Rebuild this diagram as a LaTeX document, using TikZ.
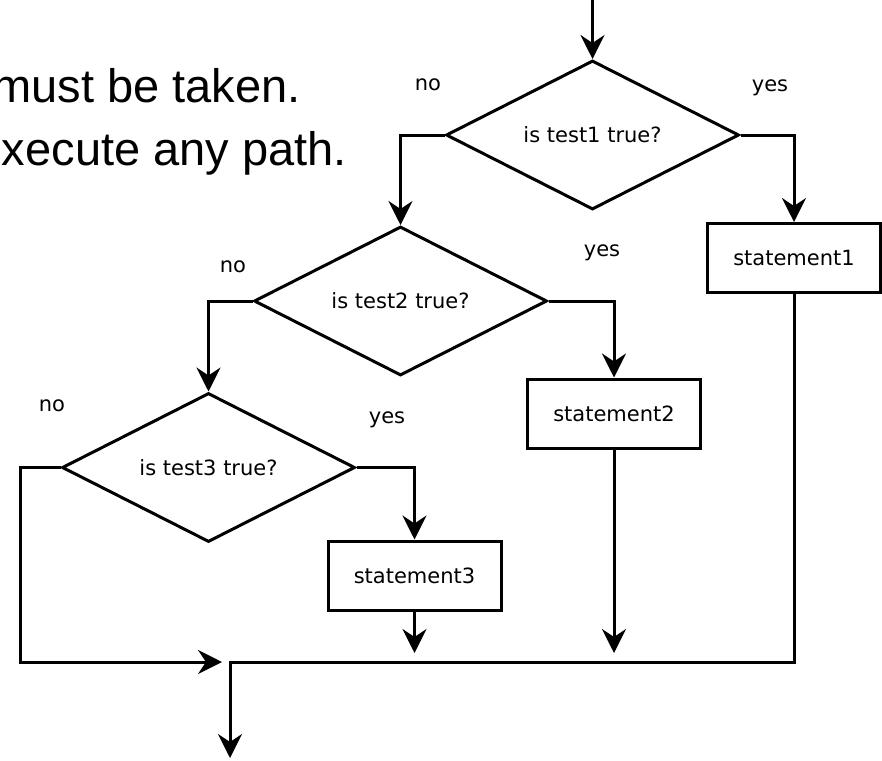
\documentclass[tikz,border=0pt]{standalone}
\usepackage{fontspec}
\usepackage{tikz}
\usetikzlibrary{positioning, shapes.geometric, arrows.meta}
\setmainfont{DejaVu Sans}
\newfontfamily\introfont{Liberation Sans}

\begin{document}
\begin{tikzpicture}[
    x=1pt, y=-1pt,
    decision/.style={diamond, draw, line width=3pt, aspect=2, minimum width=293pt,
                     minimum height=149pt, inner sep=0pt, font=\fontsize{21}{25}\selectfont},
    stmt/.style={rectangle, draw, line width=3pt, minimum width=173pt, minimum height=69pt,
                 inner sep=0pt, font=\fontsize{21}{25}\selectfont},
    flow/.style={line width=3pt, -{Stealth[length=24pt, width=24pt, inset=8pt]}},
    answer/.style={font=\fontsize{21}{25}\selectfont, inner sep=0pt},
    intro/.style={font=\introfont\fontsize{47}{56}\selectfont, anchor=base east, inner sep=0pt},
  ]

  \useasboundingbox (0,0) rectangle (882,760);

  \def\my{662}   % height of the merge line

  % --- intro text (cut off at the left) ---
  \node[intro] (line1) at (301,102) {must be taken.};
  \node[intro] (line2) at (347,165) {xecute any path.};

  % --- tests ---
  \coordinate (start) at (592.5,0);
  \node[decision] (d1) at (592.5,135) {is test1 true?};
  \node[decision] (d2) at (400.5,301) {is test2 true?};
  \node[decision] (d3) at (208.5,467.5) {is test3 true?};

  % --- statements ---
  \node[stmt] (s1) at (794,258) {statement1};
  \node[stmt] (s2) at (614,413.5) {statement2};
  \node[stmt] (s3) at (414.5,575.5) {statement3};

  % --- yes / no ---
  \node[answer] (no1)  at (428,85)  {no};
  \node[answer] (yes1) at (770,88)  {yes};
  \node[answer] (no2)  at (233,267) {no};
  \node[answer] (yes2) at (602,253) {yes};
  \node[answer] (no3)  at (52,406)  {no};
  \node[answer] (yes3) at (387,420) {yes};

  % --- branches ---
  \draw[flow] (start) -- (d1.north);
  \draw[flow] (d1.east) -| (s1.north);
  \draw[flow] (d1.west) -| (d2.north);
  \draw[flow] (d2.east) -| (s2.north);
  \draw[flow] (d2.west) -| (d3.north);
  \draw[flow] (d3.east) -| (s3.north);

  % --- merge ---
  \coordinate (corner) at (20,\my);
  \coordinate (join) at (230,\my);
  \coordinate (exit) at (230,758);
  \draw[flow, shorten >=8pt] (d3.west) -| (corner) -- (join);
  \draw[flow] (s1.south) |- (join) -- (exit);
  \draw[flow, shorten >=9pt] (s2.south) -- (s2.south |- join);
  \draw[flow, shorten >=9pt] (s3.south) -- (s3.south |- join);

\end{tikzpicture}
\end{document}
